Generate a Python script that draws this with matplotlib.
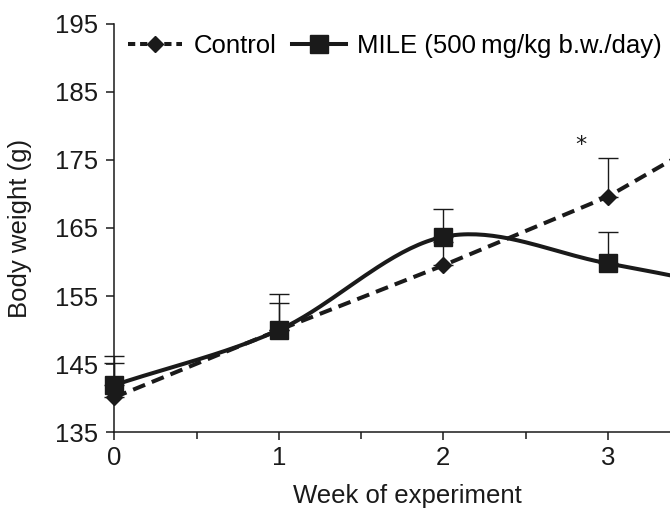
import numpy as np
import matplotlib
matplotlib.use("Agg")
import matplotlib.pyplot as plt

plt.rcParams['font.family'] = ['Liberation Sans', 'DejaVu Sans']

weeks = [0, 1, 2, 3, 4]
control = [140.1, 150.0, 159.5, 169.6, 183.5]
control_err = [5.0, 4.0, 3.5, 5.7, 4.0]
mile = [141.9, 150.0, 163.7, 159.8, 155.0]
mile_err = [4.3, 5.3, 4.1, 4.6, 4.0]
yticks = [135, 145, 155, 165, 175, 185, 195]
xticks = [0, 1, 2, 3]
legend_labels = ["Control", "MILE (500\u2009mg/kg b.w./day)"]


def catmull_rom(x, y, n=40):
    x = np.asarray(x, float)
    y = np.asarray(y, float)
    px = np.concatenate([[2 * x[0] - x[1]], x, [2 * x[-1] - x[-2]]])
    py = np.concatenate([[2 * y[0] - y[1]], y, [2 * y[-1] - y[-2]]])
    xs, ys = [], []
    for i in range(1, len(px) - 2):
        t = np.linspace(0, 1, n, endpoint=False)
        for arr, out in ((px, xs), (py, ys)):
            p0, p1, p2, p3 = arr[i - 1], arr[i], arr[i + 1], arr[i + 2]
            m1 = (p2 - p0) / 2
            m2 = (p3 - p1) / 2
            h00 = 2 * t**3 - 3 * t**2 + 1
            h10 = t**3 - 2 * t**2 + t
            h01 = -2 * t**3 + 3 * t**2
            h11 = t**3 - t**2
            out.extend(h00 * p1 + h10 * m1 + h01 * p2 + h11 * m2)
    xs.append(x[-1])
    ys.append(y[-1])
    return np.array(xs), np.array(ys)


fig = plt.figure(figsize=(6.70, 5.08), dpi=100)
ax = fig.add_axes([114.5 / 670, 76 / 508, (670 - 114.5) / 670, 408 / 508])

fs = 18.5
lw = 2.9
ink = '#1a1a1a'

# error bars (upper only)
ax.errorbar(weeks, control, yerr=[np.zeros(len(weeks)), control_err], fmt='none',
            ecolor=ink, elinewidth=1.0, capsize=7, capthick=1.0, zorder=2, clip_on=False)
ax.errorbar(weeks, mile, yerr=[np.zeros(len(weeks)), mile_err], fmt='none',
            ecolor=ink, elinewidth=1.0, capsize=7, capthick=1.0, zorder=2, clip_on=False)

# control: dashed with diamonds
ax.plot(weeks, control, color=ink, lw=lw, linestyle=(0, (3.2, 1.8)), zorder=3,
        dash_capstyle='butt')
ax.plot(weeks, control, linestyle='none', marker='D', ms=8, color=ink, zorder=4, clip_on=False)

# MILE: smoothed solid with squares
sx, sy = catmull_rom(weeks, mile)
ax.plot(sx, sy, color=ink, lw=lw, zorder=3)
ax.plot(weeks, mile, linestyle='none', marker='s', ms=13, color=ink, zorder=5, clip_on=False)

# legend proxies
h1, = ax.plot([], [], color=ink, lw=lw, linestyle=(0, (1.8, 1.2)), marker='D', ms=8)
h2, = ax.plot([], [], color=ink, lw=lw, linestyle='-', marker='s', ms=13)
fig.legend([h1, h2], legend_labels, loc='center left',
           bbox_to_anchor=(128 / 670, 1 - 46 / 508), ncol=2, frameon=False,
           fontsize=fs, handlelength=2.1, handletextpad=0.45, columnspacing=0.6,
           borderpad=0, borderaxespad=0, markerscale=1.0)

ax.text(2.84, 177.2, '*', fontsize=16, ha='center', va='center', color=ink,
        family='DejaVu Sans')

ax.set_xlim(0, (670 - 114.5) / 164.4)
ax.set_ylim(135, 195)
ax.set_yticks(yticks)
ax.set_xticks(xticks)
ax.set_xticks([0.5, 1.5, 2.5], minor=True)

for s in ['top', 'right']:
    ax.spines[s].set_visible(False)
for s in ['left', 'bottom']:
    ax.spines[s].set_linewidth(1.1)
    ax.spines[s].set_color(ink)

ax.tick_params(axis='both', which='major', direction='out', length=6, width=1.1,
               labelsize=fs, colors=ink)
ax.tick_params(axis='x', which='major', pad=4)
ax.tick_params(axis='y', which='major', pad=6)
ax.tick_params(axis='x', which='minor', direction='out', length=5, width=1.1, colors=ink)

ax.set_xlabel('Week of experiment', fontsize=fs, color=ink, va='baseline')
ax.xaxis.set_label_coords(0.528, (432 - 503) / 408)
ax.set_ylabel('Body weight (g)', fontsize=fs, color=ink, va='center')
ax.yaxis.set_label_coords((20 - 114.5) / 555.5, 0.5)

fig.savefig('out.png', dpi=100)
